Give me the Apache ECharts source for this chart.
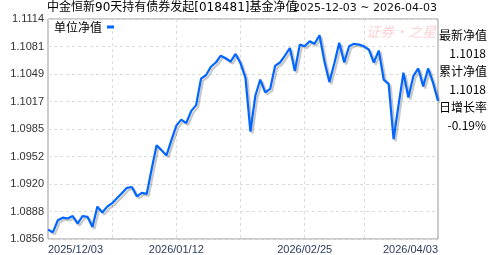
<!DOCTYPE html>
<html>
<head>
<meta charset="utf-8">
<script src="https://cdn.jsdelivr.net/npm/echarts@6/dist/echarts.min.js"></script>
<style>
html,body{margin:0;padding:0;background:#fff;}
#c{width:488px;height:255px;}
</style>
</head>
<body>
<div id="c"></div>
<script>
// ---- data ----
const titleText = '中金恒新90天持有债券发起[018481]基金净值';
const rangeText = '2025-12-03 ~ 2026-04-03';
const seriesName = '单位净值';
const watermarkText = '证券·之星';
const sideLabels = ['最新净值', '累计净值', '日增长率'];
const sideValues = ['1.1018', '1.1018', '-0.19%'];

const dates = [
  '2025/12/03','2025/12/04','2025/12/05','2025/12/08','2025/12/09','2025/12/10','2025/12/11','2025/12/12',
  '2025/12/15','2025/12/16','2025/12/17','2025/12/18','2025/12/19','2025/12/22','2025/12/23','2025/12/24',
  '2025/12/25','2025/12/26','2025/12/29','2025/12/30','2025/12/31',
  '2026/01/05','2026/01/06','2026/01/07','2026/01/08','2026/01/09','2026/01/12','2026/01/13','2026/01/14',
  '2026/01/15','2026/01/16','2026/01/19','2026/01/20','2026/01/21','2026/01/22','2026/01/23','2026/01/26',
  '2026/01/27','2026/01/28','2026/01/29','2026/01/30',
  '2026/02/02','2026/02/03','2026/02/04','2026/02/05','2026/02/06','2026/02/09','2026/02/10','2026/02/11',
  '2026/02/12','2026/02/13','2026/02/24','2026/02/25','2026/02/26','2026/02/27',
  '2026/03/02','2026/03/03','2026/03/04','2026/03/05','2026/03/06','2026/03/09','2026/03/10','2026/03/11',
  '2026/03/12','2026/03/13','2026/03/16','2026/03/17','2026/03/18','2026/03/19','2026/03/20','2026/03/23',
  '2026/03/24','2026/03/25','2026/03/26','2026/03/27','2026/03/30','2026/03/31',
  '2026/04/01','2026/04/02','2026/04/03'
];

const nav = [
  1.0867,1.0864,1.0878,1.0881,1.0880,1.0883,1.0874,1.0883,
  1.0882,1.0870,1.0894,1.0887,1.0894,1.0898,1.0904,1.0910,
  1.0916,1.0917,1.0906,1.0910,1.0909,
  1.0938,1.0966,1.0960,1.0954,1.0972,1.0989,1.0996,1.0992,
  1.1006,1.1013,1.1044,1.1048,1.1058,1.1063,1.1071,1.1068,
  1.1064,1.1073,1.1062,1.1045,
  1.0982,1.1024,1.1043,1.1028,1.1032,1.1059,1.1063,1.1071,
  1.1080,1.1053,1.1084,1.1082,1.1088,1.1085,
  1.1095,1.1064,1.1040,1.1062,1.1086,1.1063,1.1082,1.1085,
  1.1084,1.1082,1.1078,1.1063,1.1077,1.1043,1.1038,1.0973,
  1.1013,1.1051,1.1022,1.1047,1.1056,1.1035,
  1.1056,1.1039,1.1018
];

const yTickLabels = ['1.0856','1.0888','1.0920','1.0952','1.0985','1.1017','1.1049','1.1081','1.1114'];
const xLabelIdx = [0, 26, 52, 79];
const xGridIdx = [13, 26, 39, 52, 64];

// ---- chart ----
const cjk = '"Noto Sans CJK SC", sans-serif';
const mixed = '"DejaVu Sans", "Noto Sans CJK SC", sans-serif';
const latin = '"Liberation Sans", Arial, sans-serif';
const yMin = parseFloat(yTickLabels[0]);
const yMax = parseFloat(yTickLabels[yTickLabels.length - 1]);
const yStep = (yMax - yMin) / (yTickLabels.length - 1);

const chart = echarts.init(document.getElementById('c'), null, {renderer: 'canvas'});

const graphics = [
  {type: 'text', right: 51, top: 3, z: 10,
   style: {text: rangeText, font: '11px "DejaVu Sans", sans-serif', fill: '#111'}},
  {type: 'text', left: 366, top: 25, z: 1,
   style: {text: watermarkText, font: 'italic 14px ' + cjk, fill: 'rgba(245,150,160,0.42)'}}
];
const sideTops = [29, 47, 65, 83, 101, 119];
sideLabels.forEach((lab, i) => {
  graphics.push({type: 'text', right: 1, top: sideTops[i * 2], z: 10,
    style: {text: lab, font: '12px ' + cjk, fill: '#000'}});
  graphics.push({type: 'text', right: 2, top: sideTops[i * 2 + 1], z: 10,
    style: {text: sideValues[i], font: '12px ' + cjk, fill: '#000'}});
});

chart.setOption({
  animation: false,
  backgroundColor: '#fff',
  title: {
    text: titleText, left: 47, top: 2, padding: 0,
    textStyle: {fontSize: 12, fontWeight: 'normal', color: '#000', fontFamily: mixed}
  },
  legend: {
    data: [seriesName], left: 54, top: 21, padding: 0,
    icon: 'rect', itemWidth: 7, itemHeight: 3, align: 'right',
    textStyle: {fontSize: 12, color: '#000', fontFamily: cjk, padding: [0, 0, 0, 0]}
  },
  grid: {
    left: 48, right: 50, top: 19, bottom: 15,
    show: true, borderColor: '#999', borderWidth: 1, backgroundColor: 'transparent'
  },
  xAxis: {
    type: 'category', data: dates, boundaryGap: false,
    axisLine: {show: false}, axisTick: {show: false},
    axisLabel: {
      interval: (i) => xLabelIdx.includes(i),
      fontSize: 11, fontFamily: latin, color: '#2b3a5c', margin: 5,
      showMinLabel: true, showMaxLabel: true,
      alignMinLabel: 'left', alignMaxLabel: 'right'
    },
    splitLine: {
      show: true, interval: (i) => xGridIdx.includes(i),
      lineStyle: {color: '#dcdcdc', type: [3, 3], width: 1}
    }
  },
  yAxis: {
    type: 'value', min: yMin, max: yMax, interval: yStep,
    axisLine: {show: false}, axisTick: {show: false},
    axisLabel: {
      formatter: (v) => {
        let best = yTickLabels[0], d = Infinity;
        yTickLabels.forEach(t => { const e = Math.abs(parseFloat(t) - v); if (e < d) { d = e; best = t; } });
        return best;
      },
      fontSize: 11, fontFamily: latin, color: '#333', margin: 4,
      showMinLabel: true, showMaxLabel: true
    },
    splitLine: {show: true, lineStyle: {color: '#dcdcdc', type: [3, 3], width: 1}}
  },
  series: [{
    name: seriesName, type: 'line', data: nav, symbol: 'none', smooth: false,
    color: '#0066ff',
    lineStyle: {color: '#0066ff', width: 2.2, shadowColor: 'rgba(0,0,0,0.22)', shadowBlur: 0, shadowOffsetX: 2, shadowOffsetY: 2}
  }],
  graphic: graphics
});
</script>
</body>
</html>
